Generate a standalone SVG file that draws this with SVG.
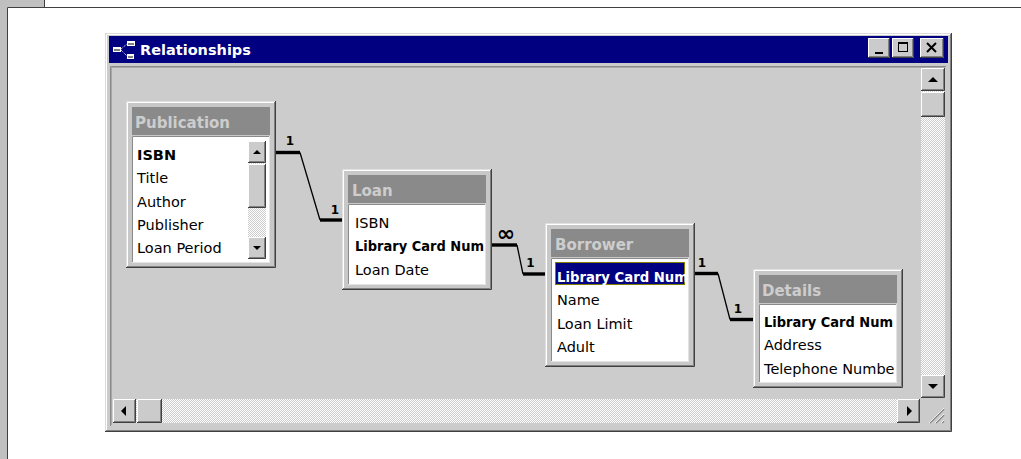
<svg xmlns="http://www.w3.org/2000/svg" width="1021" height="459" viewBox="0 0 1021 459">
<defs>
<pattern id="dither" width="2" height="2" patternUnits="userSpaceOnUse"><rect width="2" height="2" fill="#cbcbcb"/><rect width="1" height="1" fill="#fff"/><rect x="1" y="1" width="1" height="1" fill="#fff"/></pattern>
<clipPath id="listclip"><rect x="8" y="37" width="135" height="130"/></clipPath>
<clipPath id="selclip"><rect x="10" y="39" width="130" height="23"/></clipPath>
</defs>
<style>
.b{fill:#cbcbcb}
.bh{fill:none;stroke:#fff}
.bs{fill:none;stroke:#808080}
.bd{fill:none;stroke:#404040}
.gl{fill:#000}
.frame{fill:#c8c8c8}
.fo{fill:none;stroke:#e0e0e0}
.fi{fill:none;stroke:#fff}
.hdr{fill:#8a8a8a}
.list{fill:#fff}
.ls{fill:none;stroke:#8a8a8a}
.lh{fill:none;stroke:#e4e4e4}
.hdrtxt{font-family:"DejaVu Sans",sans-serif;font-weight:bold;font-size:15px;fill:#cdcdcd}
.item{font-family:"DejaVu Sans",sans-serif;font-size:14.5px;fill:#000}
.key{font-weight:bold}
.sel{fill:#fff}
.thick{fill:none;stroke:#000;stroke-width:3.4}
.thin{fill:none;stroke:#000;stroke-width:1.3}
.card{font-family:"DejaVu Sans",sans-serif;font-weight:bold;font-size:12px;fill:#000}
.many{font-size:22px}
</style>

<!-- page background -->
<rect width="1021" height="459" fill="#fff"/>
<rect x="0" y="0" width="7" height="459" fill="#c0c0c0"/>
<rect x="0" y="0" width="44" height="7" fill="#c0c0c0"/>
<path d="M7.5,459 V7.5 H1021" fill="none" stroke="#404040"/>
<path d="M44.5,0 V7" fill="none" stroke="#404040"/>

<!-- window -->
<g id="window">
<rect x="105" y="33" width="847" height="399" fill="#cbcbcb"/>
<path d="M105.5,431 V33.5 H951" fill="none" stroke="#dcdcdc"/>
<path d="M106.5,430 V34.5 H950" fill="none" stroke="#fff"/>
<path d="M105,431.5 H951.5 V33" fill="none" stroke="#404040"/>
<path d="M106,430.5 H950.5 V34" fill="none" stroke="#808080"/>
<rect x="109" y="36" width="839" height="27" fill="#000080"/>
<g id="title-icon">
<path d="M121,49 L127,44 M121,50 L127,56" stroke="#fff" stroke-dasharray="1,1" fill="none"/>
<rect x="113" y="47" width="8" height="5" fill="#fff"/>
<rect x="127" y="41" width="8" height="5" fill="#fff"/>
<rect x="127" y="54" width="7" height="5" fill="#fff"/>
<rect x="114" y="49" width="6" height="2" fill="#808080"/>
<rect x="128" y="43" width="6" height="2" fill="#808080"/>
<rect x="128" y="56" width="5" height="2" fill="#808080"/>
</g>
<text x="140" y="55" font-family="DejaVu Sans, sans-serif" font-weight="bold" font-size="14.5" fill="#fff">Relationships</text>
<g transform="translate(868,38)"><rect class="b" width="22" height="20"/><path class="bh" d="M0.5,19 V0.5 H21"/><path class="bs" d="M1,18.5 H20.5 V1"/><path class="bd" d="M0,19.5 H21.5 V0"/><rect class="gl" x="7" y="14" width="8" height="2"/></g>
<g transform="translate(892,38)"><rect class="b" width="22" height="20"/><path class="bh" d="M0.5,19 V0.5 H21"/><path class="bs" d="M1,18.5 H20.5 V1"/><path class="bd" d="M0,19.5 H21.5 V0"/><rect x="6.5" y="4.5" width="9" height="9" fill="none" stroke="#000"/><path d="M6,5.5 H16" stroke="#000"/></g>
<g transform="translate(920,38)"><rect class="b" width="24" height="20"/><path class="bh" d="M0.5,19 V0.5 H23"/><path class="bs" d="M1,18.5 H22.5 V1"/><path class="bd" d="M0,19.5 H23.5 V0"/><path d="M7,5 L16,14 M16,5 L7,14" stroke="#000" stroke-width="2"/></g>
<!-- client area -->
<rect x="110" y="66" width="836" height="360" fill="#cccccc"/>
<path d="M110.5,426 V66.5 H946" fill="none" stroke="#8a8a8a"/>
<path d="M111.5,425 V67.5 H945" fill="none" stroke="#a8a8a8"/>
<!-- vertical scrollbar -->
<rect x="921" y="91" width="24" height="284" fill="url(#dither)"/>
<g transform="translate(921,68)"><rect class="b" width="24" height="23"/><path class="bh" d="M0.5,22 V0.5 H23"/><path class="bs" d="M1,21.5 H22.5 V1"/><path class="bd" d="M0,22.5 H23.5 V0"/><path class="gl" d="M7,14 L12,9 L17,14 Z"/></g>
<g transform="translate(921,92)"><rect class="b" width="24" height="25"/><path class="bh" d="M0.5,24 V0.5 H23"/><path class="bs" d="M1,23.5 H22.5 V1"/><path class="bd" d="M0,24.5 H23.5 V0"/></g>
<g transform="translate(921,375)"><rect class="b" width="24" height="23"/><path class="bh" d="M0.5,22 V0.5 H23"/><path class="bs" d="M1,21.5 H22.5 V1"/><path class="bd" d="M0,22.5 H23.5 V0"/><path class="gl" d="M7,9 L17,9 L12,14 Z"/></g>
<!-- horizontal scrollbar -->
<rect x="136" y="399" width="762" height="24" fill="url(#dither)"/>
<g transform="translate(113,399)"><rect class="b" width="23" height="24"/><path class="bh" d="M0.5,23 V0.5 H22"/><path class="bs" d="M1,22.5 H21.5 V1"/><path class="bd" d="M0,23.5 H22.5 V0"/><path class="gl" d="M8,12 L13,7 L13,17 Z"/></g>
<g transform="translate(137,399)"><rect class="b" width="25" height="24"/><path class="bh" d="M0.5,23 V0.5 H24"/><path class="bs" d="M1,22.5 H23.5 V1"/><path class="bd" d="M0,23.5 H24.5 V0"/></g>
<g transform="translate(897,399)"><rect class="b" width="23" height="24"/><path class="bh" d="M0.5,23 V0.5 H22"/><path class="bs" d="M1,22.5 H21.5 V1"/><path class="bd" d="M0,23.5 H22.5 V0"/><path class="gl" d="M10,7 L15,12 L10,17 Z"/></g>
<g id="size-grip">
<rect x="920" y="398" width="25" height="26" fill="#cbcbcb"/>
<path d="M930,423 L944,409 M936,423 L944,415 M942,423 L944,421" stroke="#808080" stroke-width="1.5" fill="none"/>
<path d="M929,423 L944,408 M935,423 L944,414 M941,423 L944,420" stroke="#fff" stroke-width="0.8" fill="none"/>
</g>
</g>

<!-- connectors -->
<g id="connectors">
<path class="thick" d="M275,152.5 H300"/>
<path class="thin" d="M300,152.5 L320,220"/>
<path class="thick" d="M320,220 H342"/>
<path class="thick" d="M492,245 H517"/>
<path class="thin" d="M517,245 L523,274"/>
<path class="thick" d="M523,274 H545"/>
<path class="thick" d="M695,273.5 H718"/>
<path class="thin" d="M718,273.5 L730,319.5"/>
<path class="thick" d="M730,319.5 H753"/>
<text class="card" x="290" y="145" text-anchor="middle">1</text>
<text class="card" x="335" y="214" text-anchor="middle">1</text>
<text class="card many" x="506" y="241" text-anchor="middle">∞</text>
<text class="card" x="530.5" y="267" text-anchor="middle">1</text>
<text class="card" x="702" y="267" text-anchor="middle">1</text>
<text class="card" x="738" y="313" text-anchor="middle">1</text>
</g>

<!-- Publication -->
<g id="table-publication" transform="translate(126,101)">
<rect class="frame" width="150" height="167"/>
<path class="fo" d="M0.5,167 V0.5 H150"/>
<path class="fi" d="M1.5,166 V1.5 H149"/>
<path class="bd" d="M0,166.5 H149.5 V0"/>
<path class="bs" d="M1,165.5 H148.5 V1"/>
<rect class="hdr" x="6" y="6" width="138" height="28"/>
<text class="hdrtxt" x="9" y="27">Publication</text>
<rect class="list" x="6" y="35" width="138" height="127"/>
<path class="ls" d="M6.5,162 V35.5 H144"/>
<path class="lh" d="M6,161.5 H143.5 V35"/>
<g clip-path="url(#listclip)">
<text class="item key" x="11" y="59">ISBN</text>
<text class="item" x="11" y="82">Title</text>
<text class="item" x="11" y="106">Author</text>
<text class="item" x="11" y="129">Publisher</text>
<text class="item" x="11" y="152">Loan Period</text>
</g>
<rect x="122" y="62" width="18" height="74" fill="url(#dither)"/>
<g transform="translate(122,40)"><rect class="b" width="18" height="22"/><path class="bh" d="M0.5,21 V0.5 H17"/><path class="bs" d="M1,20.5 H16.5 V1"/><path class="bd" d="M0,21.5 H17.5 V0"/><path class="gl" d="M5,13 L9,9 L13,13 Z"/></g>
<g transform="translate(122,63)"><rect class="b" width="18" height="44"/><path class="bh" d="M0.5,43 V0.5 H17"/><path class="bs" d="M1,42.5 H16.5 V1"/><path class="bd" d="M0,43.5 H17.5 V0"/></g>
<g transform="translate(122,136)"><rect class="b" width="18" height="22"/><path class="bh" d="M0.5,21 V0.5 H17"/><path class="bs" d="M1,20.5 H16.5 V1"/><path class="bd" d="M0,21.5 H17.5 V0"/><path class="gl" d="M5,9 L13,9 L9,13 Z"/></g>
</g>

<!-- Loan -->
<g id="table-loan" transform="translate(342,169)">
<rect class="frame" width="150" height="121"/>
<path class="fo" d="M0.5,121 V0.5 H150"/>
<path class="fi" d="M1.5,120 V1.5 H149"/>
<path class="bd" d="M0,120.5 H149.5 V0"/>
<path class="bs" d="M1,119.5 H148.5 V1"/>
<rect class="hdr" x="6" y="6" width="138" height="28"/>
<text class="hdrtxt" x="10" y="27">Loan</text>
<rect class="list" x="6" y="35" width="138" height="81"/>
<path class="ls" d="M6.5,116 V35.5 H144"/>
<path class="lh" d="M6,115.5 H143.5 V35"/>
<g clip-path="url(#listclip)">
<text class="item" x="13" y="59">ISBN</text>
<text class="item key" x="13" y="82" textLength="129" lengthAdjust="spacingAndGlyphs">Library Card Num</text>
<text class="item" x="13" y="106">Loan Date</text>
</g>
</g>

<!-- Borrower -->
<g id="table-borrower" transform="translate(545,223)">
<rect class="frame" width="150" height="144"/>
<path class="fo" d="M0.5,144 V0.5 H150"/>
<path class="fi" d="M1.5,143 V1.5 H149"/>
<path class="bd" d="M0,143.5 H149.5 V0"/>
<path class="bs" d="M1,142.5 H148.5 V1"/>
<rect class="hdr" x="6" y="6" width="138" height="28"/>
<text class="hdrtxt" x="10" y="27">Borrower</text>
<rect class="list" x="6" y="35" width="138" height="104"/>
<path class="ls" d="M6.5,139 V35.5 H144"/>
<path class="lh" d="M6,138.5 H143.5 V35"/>
<rect x="10" y="39" width="130" height="23" fill="#000080"/>
<rect x="10.5" y="39.5" width="129" height="22" fill="none" stroke="#000"/>
<rect x="10.5" y="39.5" width="129" height="22" fill="none" stroke="#ffff00" stroke-dasharray="1,1"/>
<g clip-path="url(#selclip)">
<text class="item key sel" x="12" y="59" textLength="131" lengthAdjust="spacingAndGlyphs">Library Card Num</text>
</g>
<g clip-path="url(#listclip)">
<text class="item" x="12" y="82">Name</text>
<text class="item" x="12" y="106">Loan Limit</text>
<text class="item" x="12" y="129">Adult</text>
</g>
</g>

<!-- Details -->
<g id="table-details" transform="translate(753,269)">
<rect class="frame" width="150" height="119"/>
<path class="fo" d="M0.5,119 V0.5 H150"/>
<path class="fi" d="M1.5,118 V1.5 H149"/>
<path class="bd" d="M0,118.5 H149.5 V0"/>
<path class="bs" d="M1,117.5 H148.5 V1"/>
<rect class="hdr" x="6" y="6" width="138" height="28"/>
<text class="hdrtxt" x="9" y="27">Details</text>
<rect class="list" x="6" y="35" width="138" height="79"/>
<path class="ls" d="M6.5,114 V35.5 H144"/>
<path class="lh" d="M6,113.5 H143.5 V35"/>
<g clip-path="url(#listclip)">
<text class="item key" x="11" y="58" textLength="129" lengthAdjust="spacingAndGlyphs">Library Card Num</text>
<text class="item" x="11" y="81">Address</text>
<text class="item" x="11" y="104.5">Telephone Numbe</text>
</g>
</g>
</svg>
